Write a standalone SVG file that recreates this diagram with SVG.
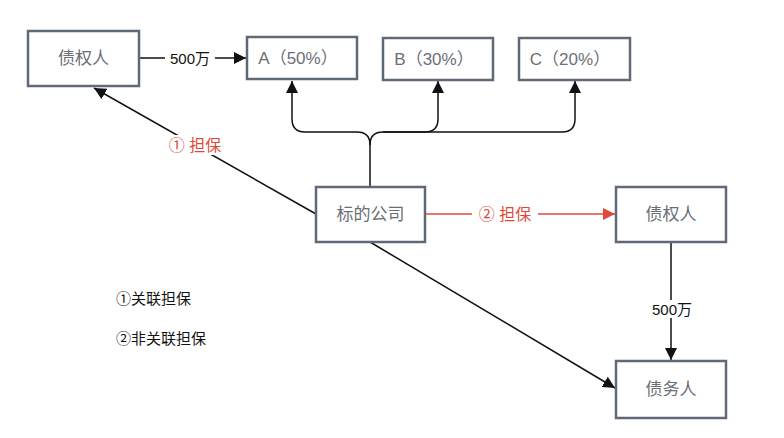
<svg xmlns="http://www.w3.org/2000/svg" width="784" height="438" viewBox="0 0 784 438">
<style>
.box{fill:#fff;stroke:#5f6977;stroke-width:2.5}
.t{font-family:"Liberation Sans","Noto Sans CJK SC",sans-serif;font-size:17px;fill:#6b6f76;text-anchor:middle;dominant-baseline:central}
.l{font-family:"Liberation Sans","Noto Sans CJK SC",sans-serif;font-size:15px;fill:#111;text-anchor:middle;dominant-baseline:central}
.r{font-family:"Liberation Sans","Noto Sans CJK SC",sans-serif;font-size:16px;fill:#e0493a;text-anchor:middle;dominant-baseline:central}
.lg{font-family:"Liberation Sans","Noto Sans CJK SC",sans-serif;font-size:15px;fill:#111;dominant-baseline:central}
.c{fill:none;stroke:#111;stroke-width:1.5}
.cr{fill:none;stroke:#e0493a;stroke-width:1.5}
</style>
<defs>
<marker id="ab" viewBox="0 0 12 12" refX="12" refY="6" markerWidth="12" markerHeight="12" markerUnits="userSpaceOnUse" orient="auto"><path d="M0,0L12,6L0,12z" fill="#111"/></marker>
<marker id="ar" viewBox="0 0 12 12" refX="12" refY="6" markerWidth="12" markerHeight="12" markerUnits="userSpaceOnUse" orient="auto"><path d="M0,0L12,6L0,12z" fill="#e0493a"/></marker>
</defs>
<rect width="784" height="438" fill="#fff"/>
<g id="connectors">
<path class="c" d="M139,58H246" marker-end="url(#ab)"/>
<rect x="165" y="49" width="50" height="18" fill="#fff"/>
<text class="l" x="190" y="58">500万</text>
<path class="c" d="M316,214L94,88" marker-end="url(#ab)"/>
<rect x="160" y="135" width="70" height="20" fill="#fff"/>
<text class="r" x="195" y="145">① 担保</text>
<path class="c" d="M370,187V145Q370,132 357,132H305Q292,132 292,119V81" marker-end="url(#ab)"/>
<path class="c" d="M370,145Q370,132 383,132H425Q438,132 438,119V81" marker-end="url(#ab)"/>
<path class="c" d="M383,132H562Q575,132 575,119V81" marker-end="url(#ab)"/>
<path class="cr" d="M425,214H615" marker-end="url(#ar)"/>
<rect x="472" y="204" width="66" height="20" fill="#fff"/>
<text class="r" x="505" y="214">② 担保</text>
<path class="c" d="M671,242V360" marker-end="url(#ab)"/>
<rect x="648" y="300" width="48" height="18" fill="#fff"/>
<text class="l" x="672" y="309">500万</text>
<path class="c" d="M370,242L615,388" marker-end="url(#ab)"/>
</g>
<g id="n1"><rect class="box" x="28" y="31" width="111" height="55"/><text class="t" x="83.5" y="58.5">债权人</text></g>
<g id="nA"><rect class="box" x="247" y="37" width="110" height="42"/><text class="t" x="298" y="58">A（50%）</text></g>
<g id="nB"><rect class="box" x="383" y="38" width="110" height="42"/><text class="t" x="434" y="59">B（30%）</text></g>
<g id="nC"><rect class="box" x="519" y="38" width="111" height="42"/><text class="t" x="570" y="59">C（20%）</text></g>
<g id="n2"><rect class="box" x="316" y="187" width="109" height="55"/><text class="t" x="370.5" y="214.5">标的公司</text></g>
<g id="n3"><rect class="box" x="616" y="187" width="110" height="55"/><text class="t" x="671" y="214.5">债权人</text></g>
<g id="n4"><rect class="box" x="616" y="361" width="110" height="57"/><text class="t" x="671" y="389.5">债务人</text></g>
<g id="legend">
<text class="lg" x="116" y="298">①关联担保</text>
<text class="lg" x="116" y="338">②非关联担保</text>
</g>
</svg>
